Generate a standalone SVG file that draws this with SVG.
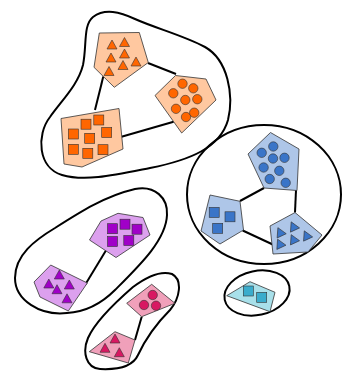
<svg xmlns="http://www.w3.org/2000/svg" width="342" height="371" viewBox="0 0 342 371">
<style>
.blob{fill:none;stroke:#000;stroke-width:2}
.edge{stroke:#000;stroke-width:2;fill:none}
.node{stroke:#333;stroke-width:0.8}
.item{stroke:#333;stroke-width:0.6}
.o-bg{fill:#ffc8a0}.o-it{fill:#ff6600}
.b-bg{fill:#aec6e8}.b-it{fill:#3a75c8}
.p-bg{fill:#dca0ee}.p-it{fill:#a000c8}
.k-bg{fill:#f0a0ba}.k-it{fill:#d81862}
.c-bg{fill:#a8e0ea}.c-it{fill:#3aaccc}
</style>
<defs>
<path id="tri" d="M0,-5 L5,4 L-5,4 Z"/>
<rect id="sq" x="-5" y="-5" width="10" height="10"/>
<circle id="cir" r="4.7"/>
</defs>
<g id="blobs">
<path class="blob" d="M 93,17 C 105,8 120,12 135,19 C 155,28 185,36 205,47 C 228,60 234,95 228,120 C 220,148 190,160 150,168 C 115,175 85,182 62,175 C 38,168 36,135 50,117 C 62,100 78,85 83,65 C 87,45 83,25 93,17 Z"/>
<ellipse class="blob" cx="264" cy="194.5" rx="77" ry="69.5"/>
<path class="blob" d="M 67,313 C 40,316 15,300 15,278 C 15,255 35,240 55,228 C 80,212 105,196 135,189 C 155,185 168,198 167,215 C 166,240 140,265 115,290 C 100,305 85,312 67,313 Z"/>
<path class="blob" d="M 133,287 C 145,278 160,270 172,274 C 183,280 180,298 170,310 C 155,325 145,340 138,355 C 133,366 120,370 100,369 C 86,368 82,352 88,338 C 96,320 118,300 133,287 Z"/>
<ellipse class="blob" cx="257" cy="293" rx="33" ry="22" transform="rotate(-12 257 293)"/>
</g>
<g id="connectors">
<line class="edge" x1="148" y1="63" x2="176" y2="74"/>
<line class="edge" x1="103.3" y1="76.5" x2="95" y2="110"/>
<line class="edge" x1="121.5" y1="136.7" x2="173.6" y2="121.7"/>
<line class="edge" x1="264" y1="188" x2="240" y2="201"/>
<line class="edge" x1="296" y1="190" x2="295" y2="212.5"/>
<line class="edge" x1="242.7" y1="230.5" x2="276" y2="246"/>
<line class="edge" x1="107.3" y1="248.3" x2="85" y2="285"/>
<line class="edge" x1="141.7" y1="316.7" x2="135" y2="340"/>
</g>
<g id="orange-triangles">
<polygon class="node o-bg" points="99.3,33 139.3,32.5 148.3,62.5 114.3,87.3 94,67.3"/>
<g class="item o-it">
<use href="#tri" x="112" y="45"/><use href="#tri" x="124.5" y="42.5"/><use href="#tri" x="111" y="58"/><use href="#tri" x="124.5" y="54"/><use href="#tri" x="136" y="62"/><use href="#tri" x="123" y="65.5"/><use href="#tri" x="109" y="71.5"/>
</g>
</g>
<g id="orange-circles">
<polygon class="node o-bg" points="155,95.5 175.5,75.5 206,79 216,100 181.7,133"/>
<g class="item o-it">
<use href="#cir" x="182.5" y="83.7"/><use href="#cir" x="193.3" y="88.3"/><use href="#cir" x="173.3" y="93.3"/><use href="#cir" x="185.3" y="100"/><use href="#cir" x="197.3" y="99.2"/><use href="#cir" x="176" y="108.8"/><use href="#cir" x="186" y="117"/><use href="#cir" x="194.2" y="112.7"/>
</g>
</g>
<g id="orange-squares">
<polygon class="node o-bg" points="61,118.5 119,108.5 123,149 82,167 64,164"/>
<g class="item o-it">
<use href="#sq" x="98.8" y="120"/><use href="#sq" x="86" y="124.2"/><use href="#sq" x="106.7" y="132.5"/><use href="#sq" x="73.3" y="134"/><use href="#sq" x="89.7" y="138.3"/><use href="#sq" x="73.3" y="149.3"/><use href="#sq" x="87.8" y="153.3"/><use href="#sq" x="103" y="149.7"/>
</g>
</g>
<g id="blue-circles">
<polygon class="node b-bg" points="270.5,132.5 299,149 297,190.5 264,188 248,154"/>
<g class="item b-it">
<use href="#cir" x="273.3" y="146.5"/><use href="#cir" x="261.7" y="152.8"/><use href="#cir" x="273" y="158.5"/><use href="#cir" x="284.5" y="157.8"/><use href="#cir" x="263.6" y="167.5"/><use href="#cir" x="279.3" y="170.8"/><use href="#cir" x="269.7" y="179"/><use href="#cir" x="285.7" y="182.8"/>
</g>
</g>
<g id="blue-squares">
<polygon class="node b-bg" points="210,195 240,201.3 243.5,230 220,244 201,231"/>
<g class="item b-it">
<use href="#sq" x="214.2" y="212.4"/><use href="#sq" x="230" y="216.8"/><use href="#sq" x="217.7" y="228.3"/>
</g>
</g>
<g id="blue-triangles">
<polygon class="node b-bg" points="270,226 295,212.5 322,235 308,252 273,254"/>
<g class="item b-it">
<use href="#tri" transform="translate(293.3 226.4) rotate(-25)"/><use href="#tri" transform="translate(280 232.2) rotate(-25)"/><use href="#tri" transform="translate(306.4 235.4) rotate(-25)"/><use href="#tri" transform="translate(293.3 239.2) rotate(-25)"/><use href="#tri" transform="translate(279.7 243.7) rotate(-25)"/>
</g>
</g>
<g id="purple-squares">
<polygon class="node p-bg" points="89.5,240 101,221 118,213.3 143,217.5 150,235 116,257.5"/>
<g class="item p-it">
<use href="#sq" x="125" y="224.2"/><use href="#sq" x="112.5" y="228.7"/><use href="#sq" x="137" y="229.2"/><use href="#sq" x="112.5" y="241.5"/><use href="#sq" x="128.8" y="240.5"/>
</g>
</g>
<g id="purple-triangles">
<polygon class="node p-bg" points="50.7,265 87.3,283 68.3,311 40,297 34,282"/>
<g class="item p-it">
<use href="#tri" x="59.3" y="275"/><use href="#tri" x="48.8" y="284"/><use href="#tri" x="69.3" y="285"/><use href="#tri" x="57" y="289.7"/><use href="#tri" x="67" y="298.8"/>
</g>
</g>
<g id="pink-circles">
<polygon class="node k-bg" points="126.7,303.3 151.7,284.3 175,303.3 141.7,316.7"/>
<g class="item k-it">
<use href="#cir" x="152.7" y="295"/><use href="#cir" x="144" y="305"/><use href="#cir" x="156" y="305.7"/>
</g>
</g>
<g id="pink-triangles">
<polygon class="node k-bg" points="89.3,351.7 115,331.7 135,340 128.3,363"/>
<g class="item k-it">
<use href="#tri" x="115" y="339"/><use href="#tri" x="105" y="348.3"/><use href="#tri" x="119.3" y="352.7"/>
</g>
</g>
<g id="cyan-squares">
<polygon class="node c-bg" points="226.7,295.7 250,281.7 275,292.3 270,311.7"/>
<g class="item c-it">
<use href="#sq" x="248.3" y="291"/><use href="#sq" x="261.7" y="297.3"/>
</g>
</g>
</svg>
